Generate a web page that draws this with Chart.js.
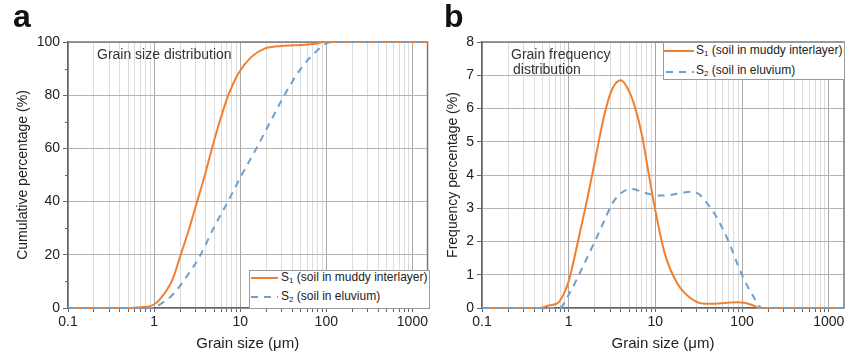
<!DOCTYPE html>
<html>
<head>
<meta charset="utf-8">
<script src="https://cdn.jsdelivr.net/npm/chart.js@4.4.1/dist/chart.umd.min.js"></script>
<style>
  body { margin: 0; background: #fff; font-family: "Liberation Sans", Arial, sans-serif; }
  #wrap { position: relative; width: 855px; height: 358px; overflow: hidden; }
  canvas { position: absolute; top: 0; }
  .txt { position: absolute; color: #333; font-size: 14px; line-height: 14px; white-space: nowrap; }
  .panel { position: absolute; font-weight: bold; font-size: 32px; line-height: 32px; color: #111; }
  .legend { position: absolute; background: #fff; border: 1px solid #9a9a9a; box-sizing: border-box; }
  .row { position: absolute; font-size: 12px; line-height: 12px; color: #222; white-space: nowrap; }
  .row sub { font-size: 8px; vertical-align: -2px; }
  .solid { position: absolute; height: 2px; background: #f0802f; }
  .dash { position: absolute; height: 2px; background: repeating-linear-gradient(to right, #6f9fca 0 7px, transparent 7px 13px); }
</style>
</head>
<body>
<div id="wrap">
  <canvas id="chartA" width="430" height="358" style="left:0"></canvas>
  <canvas id="chartB" width="425" height="358" style="left:430px"></canvas>

  <div class="panel" style="left:13px;top:0">a</div>
  <div class="panel" style="left:444px;top:0">b</div>

  <div class="txt" style="left:97px;top:47px">Grain size distribution</div>
  <div class="txt" style="left:511px;top:47px">Grain frequency</div>
  <div class="txt" style="left:513px;top:62px">distribution</div>

  <div class="legend" style="left:249px;top:270px;width:181px;height:39px"></div>
  <div class="solid" style="left:251px;top:277px;width:27px"></div>
  <div class="row" style="left:281px;top:271px">S<sub>1</sub> (soil in muddy interlayer)</div>
  <div class="dash" style="left:251px;top:296px;width:27px"></div>
  <div class="row" style="left:281px;top:290px">S<sub>2</sub> (soil in eluvium)</div>

  <div class="legend" style="left:663px;top:42px;width:182px;height:38px"></div>
  <div class="solid" style="left:664px;top:50px;width:30px"></div>
  <div class="row" style="left:696px;top:44px">S<sub>1</sub> (soil in muddy interlayer)</div>
  <div class="dash" style="left:666px;top:71px;width:28px"></div>
  <div class="row" style="left:696px;top:64px">S<sub>2</sub> (soil in eluvium)</div>
</div>

<script>
// grain sizes (µm) and values
const cumSizeS1 = [0.1, 0.5, 0.7, 0.88, 1, 1.14, 1.62, 2.03, 2.52, 3.15, 3.93, 4.7, 5.84, 7.28, 9.48, 13.5, 19.2, 30, 50, 75, 93, 1500];
const cumS1 = [0, 0, 0.3, 0.6, 1.4, 2.9, 10.4, 19.8, 29.2, 39.8, 50.5, 60, 70.6, 80, 88.1, 94.4, 97.5, 98.5, 98.9, 99.3, 100, 100];

const cumSizeS2 = [0.1, 1, 1.05, 1.62, 2.52, 3.44, 4.9, 7.2, 10.4, 15.4, 22.9, 32.6, 50.7, 78.8, 102, 125, 1500];
const cumS2 = [0, 0, 0.4, 4.8, 12.9, 19.8, 30, 40, 50, 60, 70.6, 80, 90, 96.9, 99.6, 100, 100];

const freqSizeS1 = [0.1, 0.45, 0.6, 0.75, 0.85, 1, 1.28, 1.6, 2, 2.6, 3.2, 4, 4.8, 5.8, 7, 8.3, 9.8, 12.8, 18, 26, 37, 50, 63, 90, 128, 160, 1500];
const freqS1 = [0, 0, 0.08, 0.15, 0.35, 0.8, 2.0, 3.15, 4.4, 5.85, 6.6, 6.85, 6.6, 6.05, 5.2, 4.1, 3.05, 1.65, 0.73, 0.28, 0.13, 0.13, 0.15, 0.17, 0.1, 0, 0];

const freqSizeS2 = [0.1, 0.78, 1, 1.4, 2, 2.6, 3.2, 4, 5.3, 7.5, 10.7, 15, 20, 26, 32, 37, 48, 69, 98, 140, 170, 1500];
const freqS2 = [0, 0, 0.4, 1.15, 2.0, 2.65, 3.15, 3.45, 3.58, 3.47, 3.38, 3.4, 3.46, 3.5, 3.42, 3.24, 2.84, 2.04, 1.04, 0.28, 0, 0];

const xTicks = [];
[0.1, 1, 10, 100].forEach(d => { for (let k = 1; k < 10; k++) xTicks.push(+(d * k).toPrecision(3)); });
xTicks.push(1000);
const xLabels = [0.1, 1, 10, 100, 1000];

const ORANGE = "#f0802f";
const BLUE = "#6f9fca";
const FONT = "'Liberation Sans', Arial, sans-serif";

function pts(xs, ys) {
  return xs.map((x, i) => ({x: x, y: ys[i]}));
}

// top/right box lines + small minor ticks on the y axis
const frame = {
  id: 'frame',
  beforeDatasetsDraw(chart, args, opts) {
    const a = chart.chartArea, c = chart.ctx;
    c.save();
    c.strokeStyle = "#7a7a7a";
    c.lineWidth = 1.5;
    c.beginPath();
    c.moveTo(a.left, a.top); c.lineTo(a.right, a.top); c.lineTo(a.right, a.bottom);
    c.stroke();
    if (opts.minor) {
      c.strokeStyle = "#666";
      c.lineWidth = 1;
      c.beginPath();
      opts.minor.forEach(v => {
        const y = Math.round(chart.scales.y.getPixelForValue(v)) + 0.5;
        c.moveTo(a.left - 3, y); c.lineTo(a.left, y);
      });
      c.stroke();
    }
    c.restore();
  }
};

function makeChart(id, s1, s2, yMax, yStep, yTitle, leftW, padRight, minor) {
  return new Chart(document.getElementById(id), {
    type: 'scatter',
    data: {
      datasets: [
        {label: "S1 (soil in muddy interlayer)", data: s1, showLine: true, borderColor: ORANGE,
         borderWidth: 2, pointRadius: 0, cubicInterpolationMode: 'monotone', order: 1, clip: 3},
        {label: "S2 (soil in eluvium)", data: s2, showLine: true, borderColor: BLUE,
         borderWidth: 2, borderDash: [7, 6], pointRadius: 0, cubicInterpolationMode: 'monotone', order: 0, clip: 3}
      ]
    },
    options: {
      responsive: false,
      animation: false,
      layout: {padding: {top: 42, right: padRight, left: 0, bottom: 0}},
      plugins: {legend: {display: false}, tooltip: {enabled: false}, frame: {minor: minor}},
      scales: {
        x: {
          type: 'logarithmic', min: 0.1, max: 1500,
          afterBuildTicks: s => { s.ticks = xTicks.map(v => ({value: v})); },
          afterFit: s => { s.height = 50; },
          ticks: {
            autoSkip: false, maxRotation: 0, color: "#222", padding: 2,
            font: {family: FONT, size: 14},
            callback: v => xLabels.includes(v) ? String(v) : ''
          },
          grid: {
            color: c => (c.tick && xLabels.includes(c.tick.value)) ? "#a8a8a8" : "#dcdcdc",
            tickColor: "#666", tickLength: 4, lineWidth: 1
          },
          border: {color: "#666", width: 1.5},
          title: {display: true, text: "Grain size (μm)", color: "#222", font: {family: FONT, size: 15}, padding: {top: 0, bottom: 5}}
        },
        y: {
          min: 0, max: yMax,
          afterFit: s => { s.width = leftW; },
          ticks: {stepSize: yStep, color: "#222", padding: 3, font: {family: FONT, size: 14}},
          grid: {color: "#b4b4b4", tickColor: "#666", tickLength: 5},
          border: {color: "#666", width: 1.5},
          title: {display: true, text: yTitle, color: "#222", font: {family: FONT, size: 14}, padding: {top: 15, bottom: 0}}
        }
      }
    },
    plugins: [frame]
  });
}

makeChart('chartA', pts(cumSizeS1, cumS1), pts(cumSizeS2, cumS2), 100, 20, "Cumulative percentage (%)", 68, 1, [10, 30, 50, 70, 90]);
makeChart('chartB', pts(freqSizeS1, freqS1), pts(freqSizeS2, freqS2), 8, 1, "Frequency percentage (%)", 52, 11, null);
</script>
</body>
</html>
